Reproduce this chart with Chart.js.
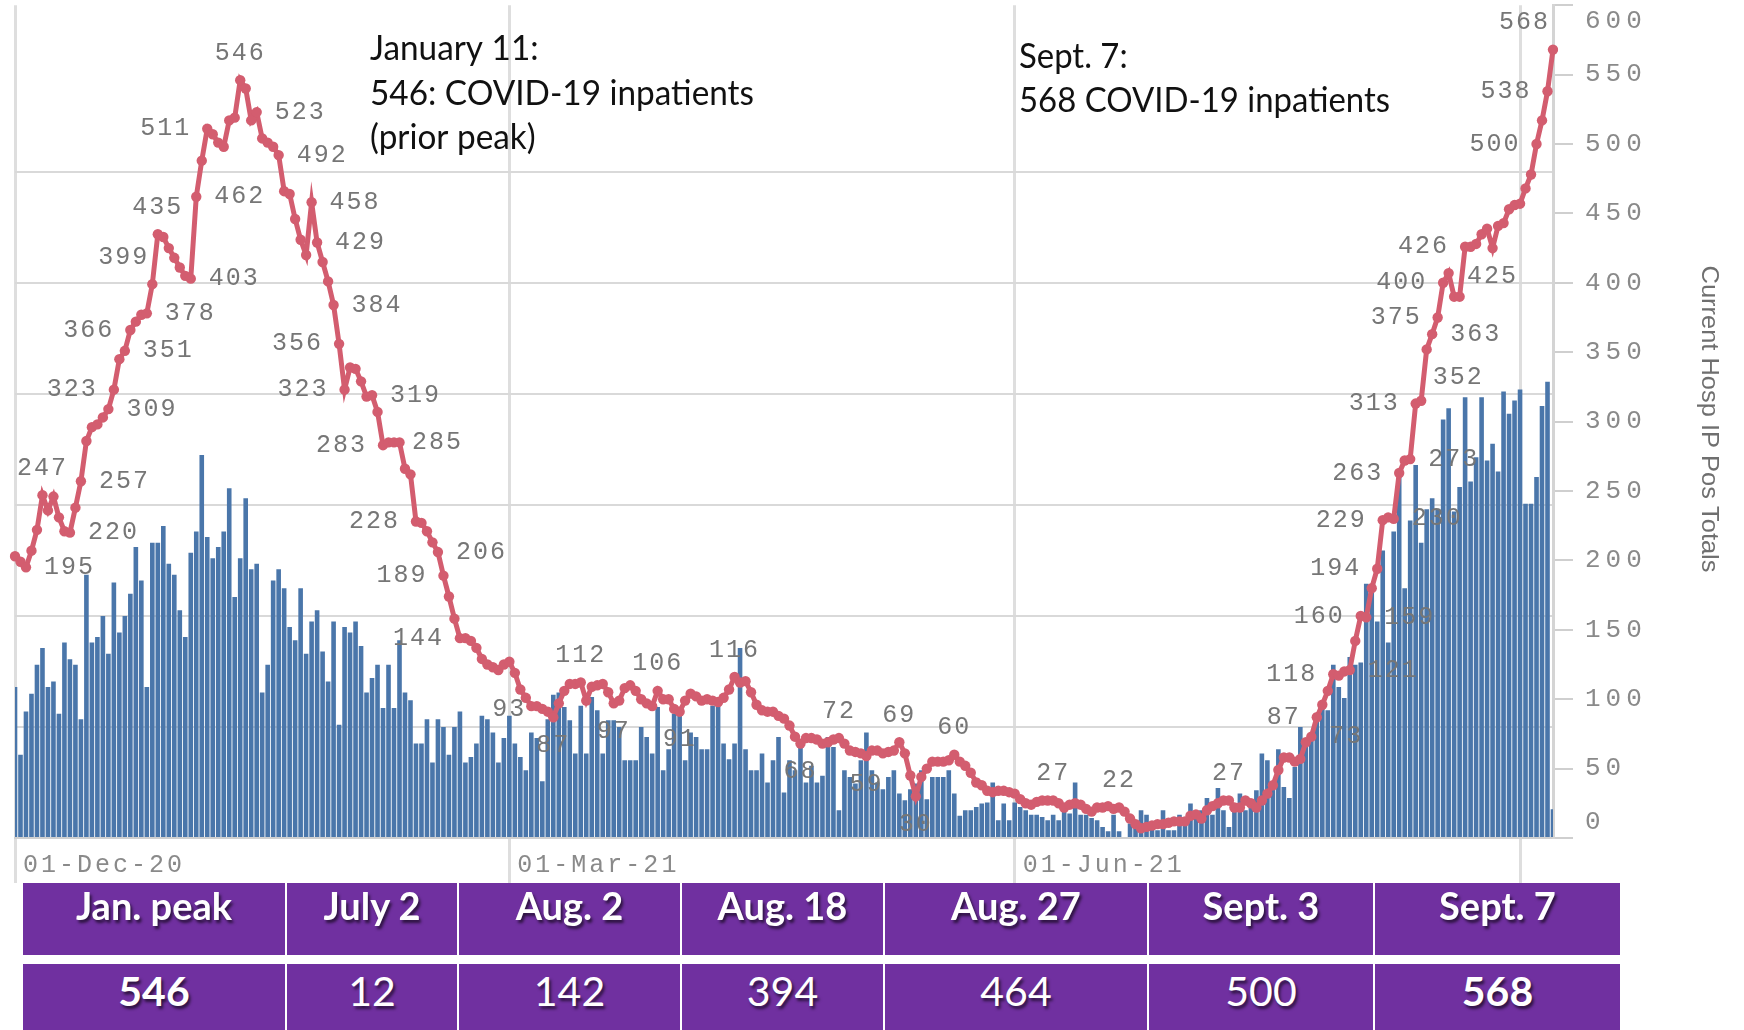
<!DOCTYPE html>
<html lang="en">
<head>
<meta charset="UTF-8">
<title>COVID-19 inpatients</title>
<script src="https://cdn.jsdelivr.net/npm/chart.js"></script>
<style>
  body { margin: 0; width: 1744px; height: 1030px; overflow: hidden; background: #fff; font-family: Lato, sans-serif; }
  #wrap { position: relative; width: 1744px; height: 1030px; }
  #chart { position: absolute; left: 0; top: 0; }
  .cell { position: absolute; background: #7030a0; color: #fff; text-align: center; text-shadow: 2px 3px 3px rgba(0,0,0,0.6); }
  .head { font-weight: bold; font-size: 38px; line-height: 44px; }
  .val { font-size: 41px; line-height: 48px; }
  .val.bold { font-weight: bold; }
</style>
</head>
<body>
<div id="wrap">
  <canvas id="chart" width="1744" height="883"></canvas>
  <div id="table"></div>
</div>

<script>
// daily series, 1 Dec 2020 .. 7 Sep 2021
const startDay = [2020, 11, 1];
const dayCount = 281;

// current hospital inpatients (red line, right axis)
const lineVals = [
  203,199,195,207,222,247,236,246,231,221,220,238,257,286,296,298,303,309,323,345,351,366,372,377,378,399,435,433,425,418,411,405,403,
  462,488,511,507,501,498,517,519,546,540,517,523,504,501,498,492,466,464,446,431,420,458,429,415,401,384,
  356,323,339,338,329,318,319,307,283,285,285,285,
  266,262,228,227,221,213,206,189,174,158,144,144,142,137,129,125,123,121,125,127,119,107,101,95,95,93,91,87,
  97,106,111,111,112,99,109,110,111,105,97,99,108,110,106,100,97,95,106,100,100,93,91,99,104,102,99,100,99,98,101,107,116,112,113,105,96,92,91,91,88,86,81,
  73,68,72,72,71,68,69,71,72,68,63,62,61,59,63,63,61,62,63,69,61,45,30,44,50,55,55,55,56,60,55,52,47,40,
  38,34,33,34,34,33,32,28,25,24,26,27,27,27,25,22,24,25,24,21,19,22,22,23,21,22,19,14,10,7,8,9,10,10,11,12,12,12,16,17,14,20,23,25,27,27,22,22,27,25,22,27,32,38,49,58,58,55,57,69,73,87,96,106,
  118,117,120,121,142,160,159,180,194,229,231,230,263,272,273,313,315,352,363,375,400,407,390,390,426,426,428,435,439,425,441,443,453,456,457,468,478,500,517,538,568
];

// daily bars (hidden left axis)
const barVals = [
  136,75,114,130,156,171,136,141,112,176,161,156,107,237,176,181,200,166,230,185,200,220,262,232,136,266,266,281,247,237,205,181,
  257,276,345,271,252,262,276,315,217,252,306,242,247,131,156,232,242,225,190,178,225,166,195,205,168,141,195,102,190,185,195,173,131,144,156,117,
  156,117,178,131,124,85,85,107,68,107,100,75,100,114,68,73,85,110,107,95,68,90,110,85,73,61,95,90,51,107,129,
  131,118,106,76,119,76,127,115,76,106,106,100,70,70,70,100,91,76,118,61,80,112,112,70,95,91,80,80,119,119,85,71,85,171,80,61,61,76,50,70,
  91,41,70,61,85,50,65,50,56,91,82,25,61,55,49,70,95,61,50,44,55,61,40,34,44,49,61,35,55,55,55,61,40,20,25,25,28,
  31,32,50,16,31,16,32,28,25,21,21,19,16,21,16,25,22,50,21,21,18,16,10,6,21,6,1,13,13,25,21,12,7,25,7,7,21,15,31,21,25,36,21,45,25,10,25,40,25,34,43,76,70,49,80,46,36,64,100,82,89,106,118,115,
  156,136,126,163,156,158,229,225,195,259,176,276,328,225,286,336,266,296,306,296,377,387,294,316,397,321,343,397,340,355,330,402,382,
  394,404,301,301,325,389,411,26
];

// which points carry a value label, and on which side
const labelIdx = [2,5,10,12,18,17,21,20,25,26, 24,32,35,41,33,44,48,54,55,58, 59,60,65,67,69,73,77,78,81,96,
  98,103,109,117,121,131,143,150,155,161, 164,171,189,201,221,237,236,240,245,243, 246,248,249,251,252,254,255,257,258,259,
  260,264,269,277,279,280];
const labelSide = ['r','t','r','r','l','r','l','r','tl','t', 'r','r','l','t','r','r','r','r','r','r', 'l','l','r','l','r','l','r','l','l','l',
  'b','t','b','t','b','t','b','t','b','t', 'b','t','t','t','t','l','r','l','l','r', 'r','l','l','r','l','r','l','rb','r','l',
  'l','l','b','l','l','tl'];

const tickDates = ['2020-12-01', '2021-03-01', '2021-06-01', '2021-09-01'];
const tickTexts = ['01-Dec-20', '01-Mar-21', '01-Jun-21', ''];
const yTickTop = 600;
const axisTitle = 'Current Hosp IP Pos Totals';

const noteJan = ['January 11:', '546: COVID-19 inpatients', '(prior peak)'];
const noteSep = ['Sept. 7:', '568 COVID-19 inpatients'];

const tableHeads = ['Jan. peak', 'July 2', 'Aug. 2', 'Aug. 18', 'Aug. 27', 'Sept. 3', 'Sept. 7'];
const tableVals = [546, 12, 142, 394, 464, 500, 568];
const tableBold = [true, false, false, false, false, false, true];
const colEdges = [22, 286, 458, 681, 884, 1148, 1374, 1621];

const dates = [];
for (let k = 0; k < dayCount; k++) {
  dates.push(new Date(Date.UTC(startDay[0], startDay[1], startDay[2] + k)).toISOString().slice(0, 10));
}

const RED = '#d35d6f';
const BLUE = '#4a76aa';
const MONO = '"Liberation Mono", monospace';

function drawNote(ctx, lines, x, baselines, width) {
  ctx.save();
  ctx.font = '34px Lato, sans-serif';
  ctx.fillStyle = '#111';
  ctx.textAlign = 'left';
  ctx.textBaseline = 'alphabetic';
  const widest = Math.max(...lines.map(l => ctx.measureText(l).width));
  const sx = width / widest;
  lines.forEach((l, k) => {
    ctx.save();
    ctx.translate(x, baselines[k]);
    ctx.scale(sx, 1);
    ctx.fillText(l, 0, 0);
    ctx.restore();
  });
  ctx.restore();
}

const extras = {
  id: 'extras',
  beforeDraw(chart) {
    chart.ctx.letterSpacing = '3px';
  },
  afterDatasetsDraw(chart) {
    const ctx = chart.ctx;
    const pts = chart.getDatasetMeta(0).data;
    ctx.save();
    ctx.letterSpacing = '2px';
    ctx.font = '25px ' + MONO;
    ctx.fillStyle = '#767676';
    ctx.textBaseline = 'middle';
    labelIdx.forEach((i, k) => {
      const p = pts[i];
      const s = labelSide[k];
      let x = p.x, y = p.y, a = 'center';
      if (s === 'l') { a = 'right'; x -= 16; }
      else if (s === 'r') { a = 'left'; x += 18; }
      else if (s === 't') { y -= 27; }
      else if (s === 'b') { y += 28; }
      else if (s === 'tl') { a = 'right'; x -= 3; y -= 27; }
      else if (s === 'rb') { a = 'left'; x += 6; y += 28; }
      ctx.textAlign = a;
      ctx.fillText(String(lineVals[i]), x, y);
    });
    ctx.restore();
    ctx.letterSpacing = '5px';
  },
  afterDraw(chart) {
    const ctx = chart.ctx;
    ctx.letterSpacing = '0px';
    drawNote(ctx, noteJan, 370, [60, 105, 149], 384);
    drawNote(ctx, noteSep, 1019, [68, 112], 371);

    ctx.save();
    ctx.translate(1709, 419);
    ctx.rotate(Math.PI / 2);
    ctx.font = '24px "Liberation Sans", sans-serif';
    const w = ctx.measureText(axisTitle).width;
    ctx.scale(307 / w, 1);
    ctx.textAlign = 'center';
    ctx.textBaseline = 'middle';
    ctx.fillStyle = '#6f6f6f';
    ctx.fillText(axisTitle, 0, 0);
    ctx.restore();
  }
};

new Chart(document.getElementById('chart'), {
  type: 'bar',
  data: {
    labels: dates,
    datasets: [
      {
        type: 'line',
        label: axisTitle,
        data: lineVals,
        yAxisID: 'y',
        order: 0,
        borderColor: RED,
        backgroundColor: RED,
        borderWidth: 5,
        pointRadius: 5.2,
        pointBorderWidth: 0,
        pointBackgroundColor: RED,
        tension: 0
      },
      {
        type: 'bar',
        label: 'Daily',
        data: barVals,
        yAxisID: 'yBar',
        order: 1,
        backgroundColor: BLUE,
        categoryPercentage: 1,
        barPercentage: 0.84
      }
    ]
  },
  options: {
    responsive: false,
    animation: false,
    devicePixelRatio: 1,
    layout: { padding: { left: 15, right: 0, top: 0, bottom: 0 } },
    plugins: { legend: { display: false }, tooltip: { enabled: false } },
    scales: {
      x: {
        offset: false,
        grid: {
          offset: false,
          lineWidth: 3,
          tickLength: 45,
          color: (c) => (tickDates.includes(dates[c.index]) ? '#dedede' : 'rgba(0,0,0,0)')
        },
        border: { color: '#d0d0d0', width: 2 },
        ticks: {
          autoSkip: false,
          maxRotation: 0,
          minRotation: 0,
          align: 'start',
          labelOffset: 8,
          padding: -33,
          color: '#8a8a8a',
          font: { family: MONO, size: 25 },
          callback: function (v) {
            const k = tickDates.indexOf(this.getLabelForValue(v));
            return k >= 0 ? tickTexts[k] : '';
          }
        },
        afterFit(s) { s.height = 45; s.paddingLeft = 0; s.paddingRight = 0; }
      },
      y: {
        position: 'right',
        min: 0,
        max: yTickTop,
        grid: { drawOnChartArea: false, tickLength: 20, color: '#cfcfcf', lineWidth: 2 },
        border: { color: '#d4d4d4', width: 3 },
        ticks: {
          stepSize: 50,
          padding: 12,
          z: 1,
          color: '#8a8a8a',
          font: { family: MONO, size: 26 },
          callback: (v) => (v === yTickTop ? ['', String(v)] : v === 0 ? ['0', ''] : String(v))
        },
        afterFit(s) { s.width = 191; s.paddingTop = 0; s.paddingBottom = 0; }
      },
      yBar: {
        position: 'left',
        min: 0,
        max: 750,
        ticks: { display: false, stepSize: 100 },
        grid: {
          drawTicks: false,
          lineWidth: 2,
          color: (c) => (c.tick && c.tick.value > 0 && c.tick.value <= 600 ? '#d9d9d9' : 'rgba(0,0,0,0)')
        },
        border: { display: false },
        afterFit(s) { s.width = 0; s.paddingTop = 0; s.paddingBottom = 0; }
      }
    }
  },
  plugins: [extras]
});

// summary table under the chart
const table = document.getElementById('table');
tableHeads.forEach((h, k) => {
  const left = colEdges[k] + 1;
  const width = colEdges[k + 1] - colEdges[k] - 2;
  const head = document.createElement('div');
  head.className = 'cell head';
  head.style.cssText = `left:${left}px;width:${width}px;top:883px;height:72px;padding-top:0px;box-sizing:border-box;`;
  head.textContent = h;
  table.appendChild(head);
  const val = document.createElement('div');
  val.className = 'cell val' + (tableBold[k] ? ' bold' : '');
  val.style.cssText = `left:${left}px;width:${width}px;top:964px;height:66px;padding-top:3px;box-sizing:border-box;`;
  val.textContent = tableVals[k];
  table.appendChild(val);
});
</script>
</body>
</html>
